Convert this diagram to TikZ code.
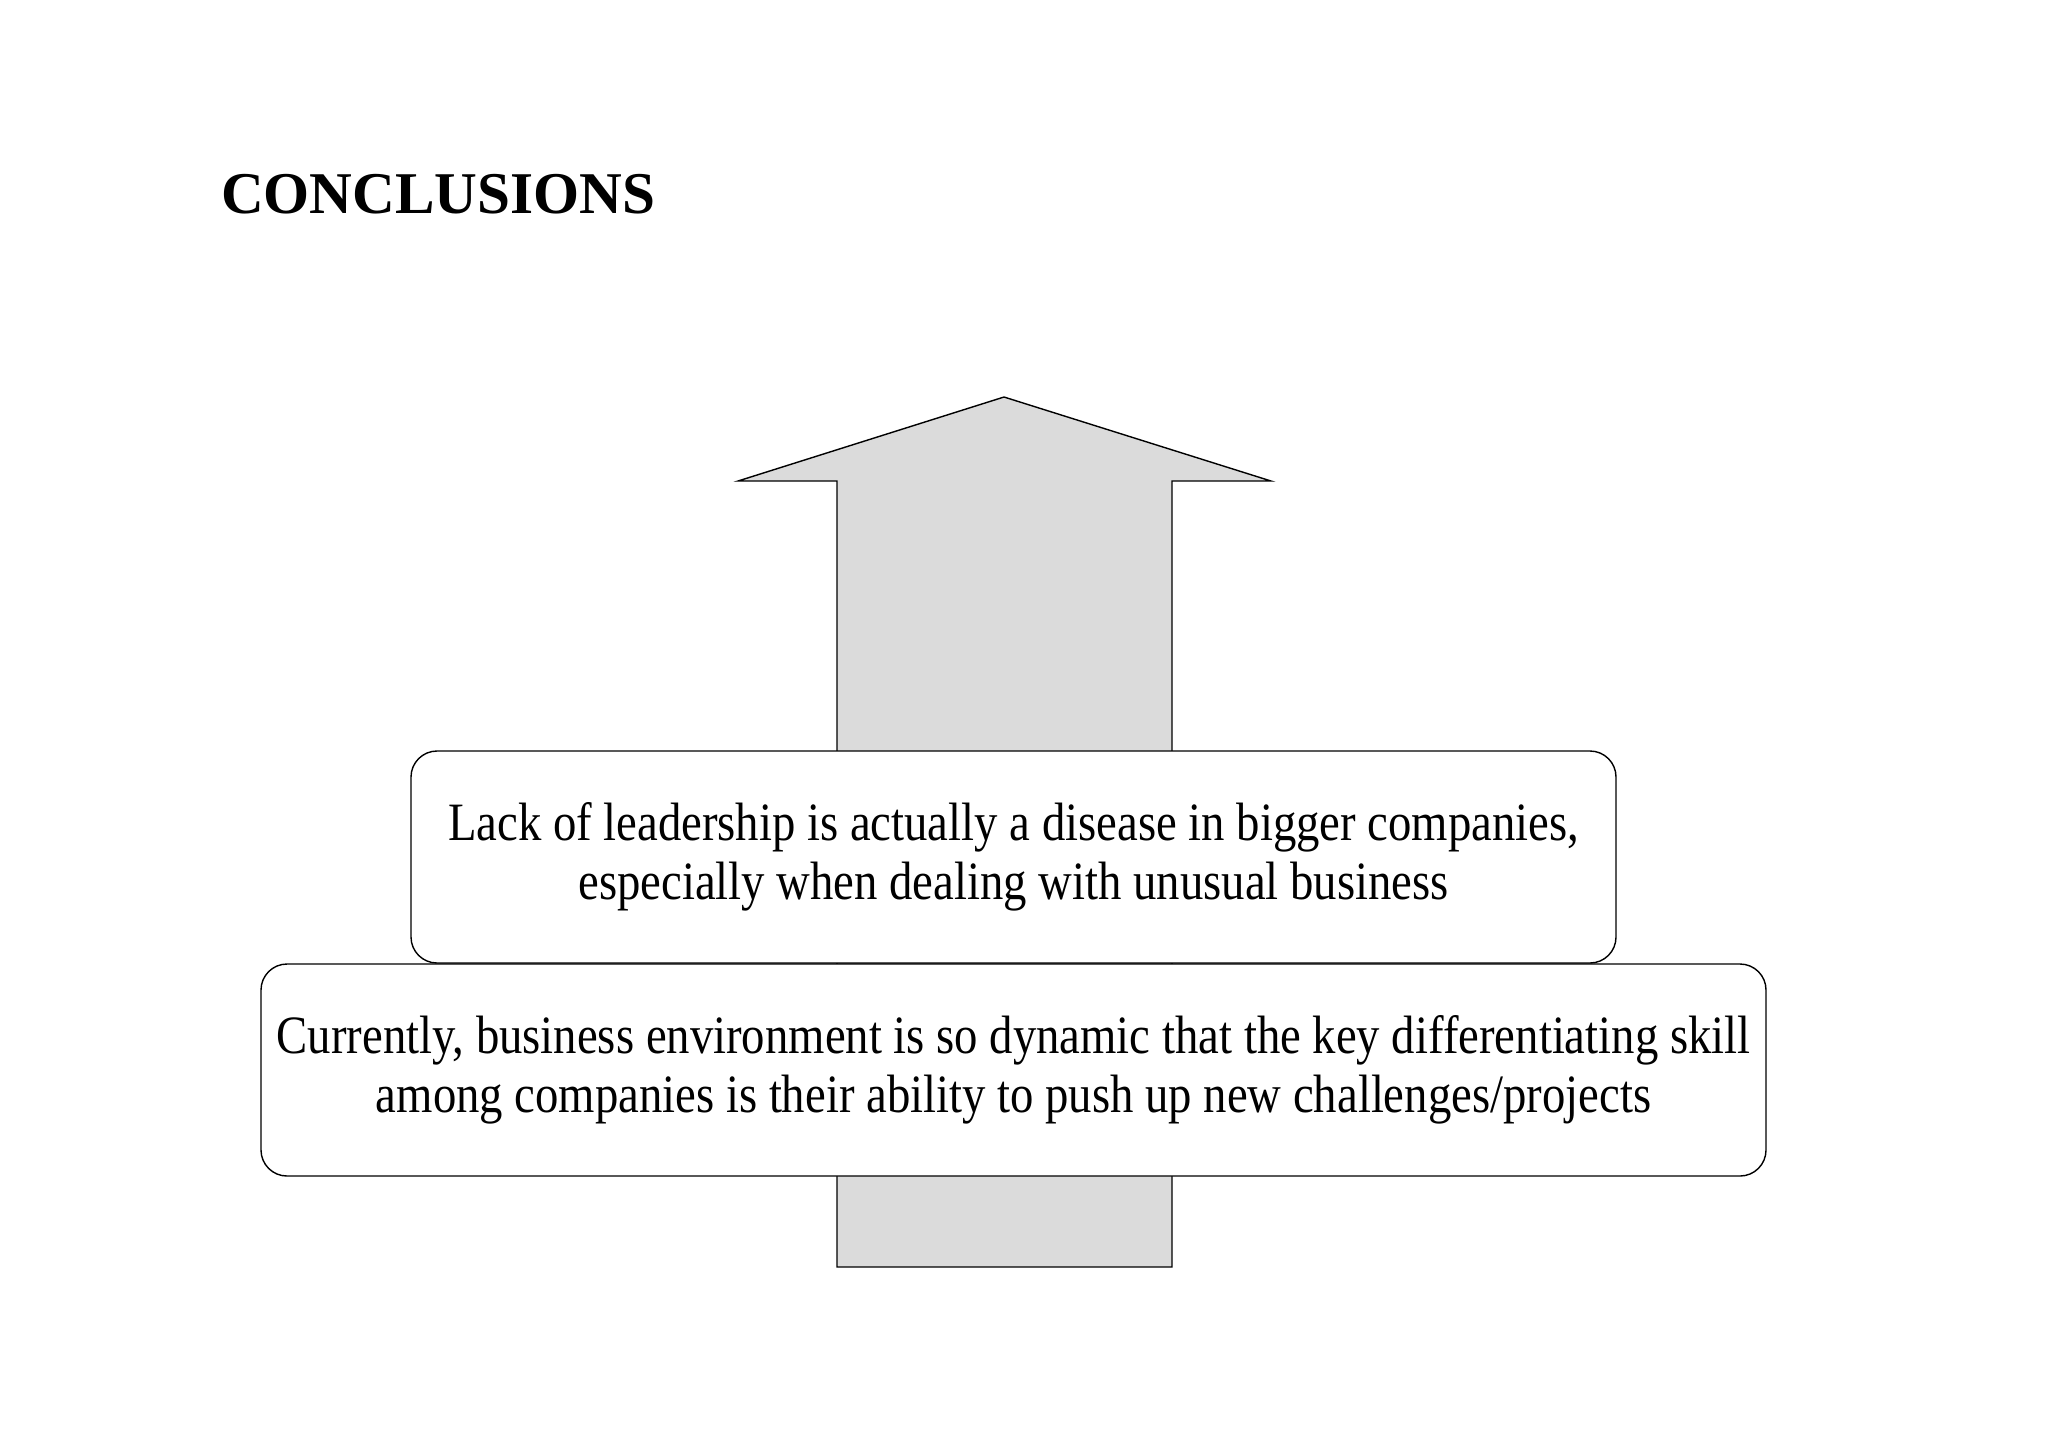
\documentclass[tikz,border=0pt]{standalone}
\usepackage{fontspec}
\setmainfont{Liberation Serif}
\newfontfamily\narrowfont[FakeStretch=0.865]{Liberation Serif}
\begin{document}
\begin{tikzpicture}[x=0.5pt, y=-0.5pt,
	card/.style = {draw, fill=white, rounded corners=13pt, line width=0.7pt, align=center,
		minimum height=106pt, inner sep=0pt, font=\narrowfont\fontsize{27}{29.5}\selectfont},
	arrowbody/.style = {draw, fill=gray!28, line width=0.7pt}]
	
	\useasboundingbox (0,0) rectangle (2048,1447);
	
	\node[anchor=base west, font=\bfseries\fontsize{29.6}{36}\selectfont] (title) at (214,213) {CONCLUSIONS};
	
	% big arrow behind the cards
	\draw[arrowbody] (837,1267) -- (837,481) -- (738,481) -- (1004,397) -- (1271,481)
		-- (1172,481) -- (1172,1267) -- cycle;
	
	\node[card, minimum width=602.5pt] (lack) at (1013.5,857)
		{Lack of leadership is actually a disease in bigger companies,\\especially when dealing with unusual business};
	\node[card, minimum width=752.5pt] (now) at (1013.5,1070)
		{Currently, business environment is so dynamic that the key differentiating skill\\among companies is their ability to push up new challenges/projects};
\end{tikzpicture}
\end{document}
